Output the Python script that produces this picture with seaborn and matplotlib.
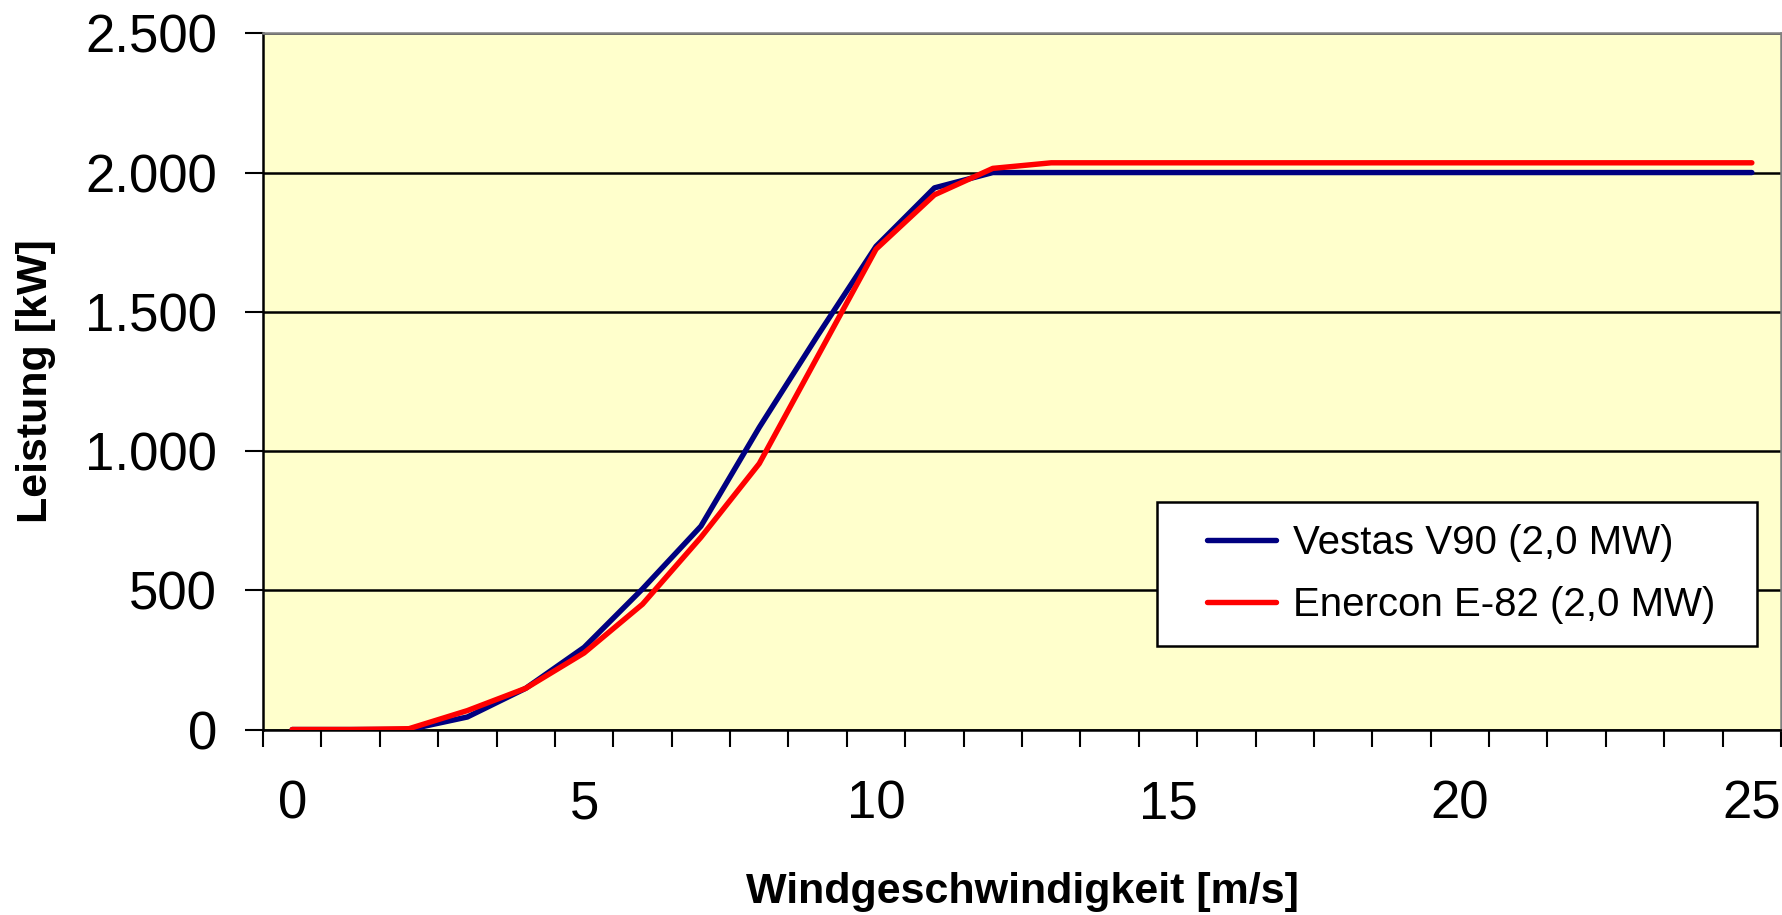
import numpy as np
import pandas as pd
import matplotlib
matplotlib.use('Agg')
import matplotlib.pyplot as plt
import matplotlib.ticker as mticker
from matplotlib.patches import Rectangle
from matplotlib.lines import Line2D
import seaborn as sns

# wind speed categories [m/s]
wind = list(range(0, 26))

# power curves [kW]
vestas = [0, 0, 0, 45, 148, 295, 505, 730, 1085, 1415, 1735, 1945, 2000,
          2000, 2000, 2000, 2000, 2000, 2000, 2000, 2000, 2000, 2000, 2000, 2000, 2000]
enercon = [0, 0, 3, 68, 148, 275, 450, 690, 955, 1340, 1725, 1920, 2015,
           2035, 2035, 2035, 2035, 2035, 2035, 2035, 2035, 2035, 2035, 2035, 2035, 2035]

names = ['Vestas V90 (2,0 MW)', 'Enercon E-82 (2,0 MW)']
colors = {names[0]: '#000080', names[1]: '#FF0000'}

df = pd.DataFrame({
    'Wind': wind * 2,
    'Leistung': vestas + enercon,
    'Anlage': [names[0]] * len(wind) + [names[1]] * len(wind),
})

sns.set_style('white')
plt.rcParams['font.family'] = ['Liberation Sans', 'DejaVu Sans']
plt.rcParams['text.color'] = 'black'
plt.rcParams['axes.labelcolor'] = 'black'
plt.rcParams['xtick.color'] = 'black'
plt.rcParams['ytick.color'] = 'black'

fig = plt.figure(figsize=(17.83, 9.15), dpi=100)
ax = fig.add_axes([0.1475, 0.2027, 0.9989 - 0.1475, 0.9636 - 0.2027])
ax.set_facecolor('#FFFFCC')

sns.lineplot(data=df, x='Wind', y='Leistung', hue='Anlage', palette=colors,
             linewidth=3.9, ax=ax, legend=False, zorder=4)

ax.set_xlim(-0.5, 25.5)
ax.set_ylim(0, 2500)

# y axis
ax.set_yticks(np.arange(0, 2501, 500))
ax.yaxis.set_major_formatter(mticker.FuncFormatter(lambda v, p: f'{int(v):,}'.replace(',', '.')))
ax.tick_params(axis='y', which='major', direction='out', length=13, width=1.5,
               color='black', labelcolor='black', labelsize=38, pad=20, left=True)
ax.grid(axis='y', color='black', linewidth=1.8, zorder=1)
ax.grid(axis='x', visible=False)

# x axis: labels every 5, tick marks between categories
ax.set_xticks(np.arange(0, 26, 5))
ax.set_xticks(np.arange(-0.5, 26, 1), minor=True)
ax.tick_params(axis='x', which='major', length=0, labelsize=38, labelcolor='black', pad=36)
ax.tick_params(axis='x', which='minor', direction='out', length=12.5, width=1.5,
               color='black', bottom=True)

for side in ['left', 'bottom']:
    ax.spines[side].set_color('black')
    ax.spines[side].set_linewidth(1.8)
for side in ['top', 'right']:
    ax.spines[side].set_color('#808080')
    ax.spines[side].set_linewidth(1.8)
    ax.spines[side].set_visible(True)

ax.set_xlabel('Windgeschwindigkeit [m/s]', fontsize=31, fontweight='bold', va='center', color='black')
ax.set_ylabel('Leistung [kW]', fontsize=31, fontweight='bold', va='center', color='black')
ax.xaxis.set_label_coords(0.5, -0.2334)
ax.yaxis.set_label_coords(-0.1495, 0.5)

# legend box
ax.add_patch(Rectangle((0.589, 0.120), 0.395, 0.207, transform=ax.transAxes,
                       facecolor='white', edgecolor='black', linewidth=1.8, zorder=5))
handles = [Line2D([], [], color=colors[n], linewidth=3.9) for n in names]
leg = ax.legend(handles, names, loc='center left', bbox_to_anchor=(0.622, 0.2234),
                frameon=False, fontsize=29, handlelength=1.72, handletextpad=0.4,
                labelspacing=0.6, borderpad=0, borderaxespad=0)
for t in leg.get_texts():
    t.set_color('black')
leg.set_zorder(6)

fig.savefig('out.png', dpi=100)
